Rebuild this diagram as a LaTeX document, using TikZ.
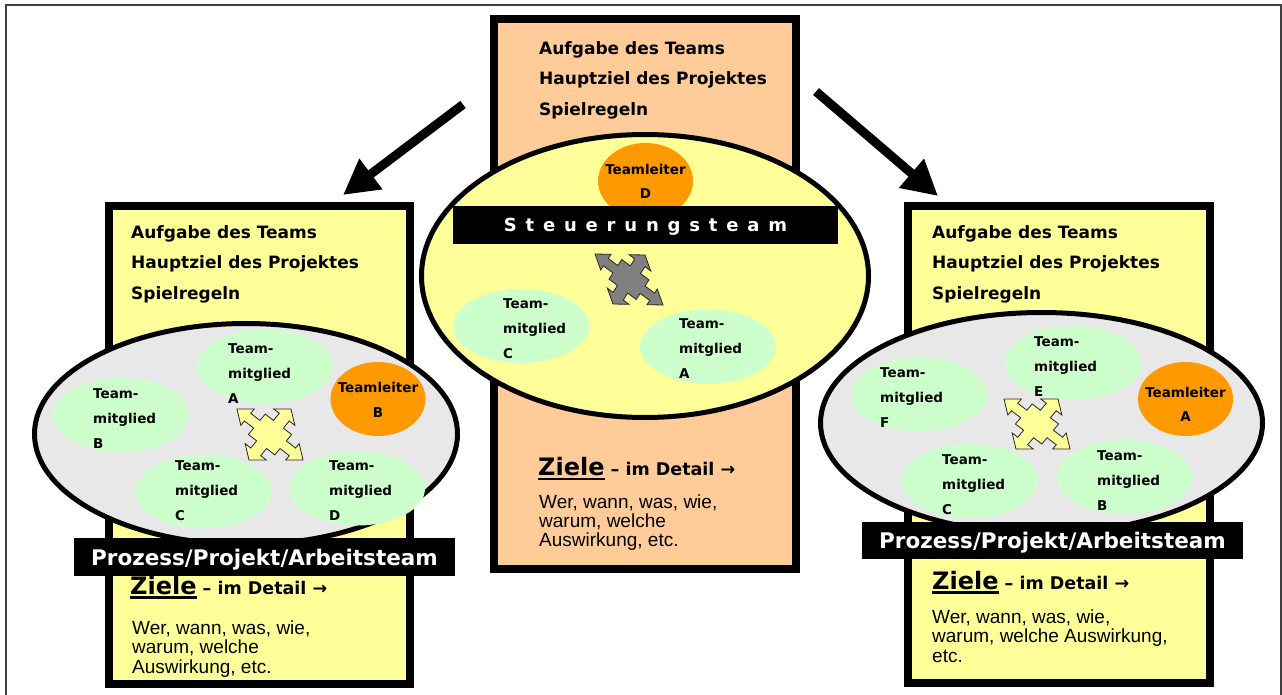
\documentclass[tikz,border=0pt]{standalone}
\usepackage{fontspec}
\setmainfont{DejaVu Sans}
\newfontfamily\arialfont{Liberation Sans}
\usetikzlibrary{shapes.geometric,arrows.meta}

\definecolor{boxorange}{HTML}{FFCC99}
\definecolor{boxyellow}{HTML}{FFFF99}
\definecolor{teamgray}{HTML}{E8E8E8}
\definecolor{membergreen}{HTML}{CCFFCC}
\definecolor{leaderorange}{HTML}{FF9900}
\definecolor{crossgray}{HTML}{808080}

\newcommand{\teamcross}{(0.4,-0.15) -- (0.68,-0.15) -- (0.68,-0.32) -- (1,0) -- (0.68,0.32) -- (0.68,0.15) -- (0.4,0.15) -- (0.4,0.4) -- (0.15,0.4) -- (0.15,0.68) -- (0.32,0.68) -- (0,1) -- (-0.32,0.68) -- (-0.15,0.68) -- (-0.15,0.4) -- (-0.4,0.4) -- (-0.4,0.15) -- (-0.68,0.15) -- (-0.68,0.32) -- (-1,0) -- (-0.68,-0.32) -- (-0.68,-0.15) -- (-0.4,-0.15) -- (-0.4,-0.4) -- (-0.15,-0.4) -- (-0.15,-0.68) -- (-0.32,-0.68) -- (0,-1) -- (0.32,-0.68) -- (0.15,-0.68) -- (0.15,-0.4) -- (0.4,-0.4) -- cycle}
\newcommand{\zielul}[1]{\setbox0=\hbox{#1}\rlap{\rule[-4.5pt]{\wd0}{2.5pt}}\box0}

\tikzset{
  teambox/.style={line width=8pt},
  teamoval/.style={ellipse, draw=black, line width=5pt, inner sep=0},
  member/.style={ellipse, fill=membergreen, minimum width=136pt, minimum height=74pt, inner sep=0},
  leader/.style={ellipse, fill=leaderorange, minimum width=95pt, minimum height=74pt, inner sep=0},
  leadertext/.style={inner sep=0, align=center, font=\bfseries\fontsize{13.5}{24.5}\selectfont},
  membertext/.style={anchor=north west, inner sep=0, align=left, font=\bfseries\fontsize{13.5}{25}\selectfont},
  teambar/.style={fill=black, text=white, inner sep=0, text depth=0pt, font=\bfseries\fontsize{21.5}{24}\selectfont},
  headtext/.style={anchor=north west, inner sep=0, align=left, font=\bfseries\fontsize{17}{30.75}\selectfont},
  zieltext/.style={anchor=base west, inner sep=0, font=\bfseries\fontsize{24}{28}\selectfont},
  detailtext/.style={anchor=north west, inner sep=0, align=left, font=\arialfont\fontsize{19}{19.4}\selectfont},
  crossline/.style={draw=black!85, line width=0.8pt},
  bigarrow/.style={line width=9pt, -{Triangle[length=35pt,width=36pt]}}
}

\begin{document}
\begin{tikzpicture}[x=1pt,y=-1pt]
  \useasboundingbox (0,0) rectangle (1282,695);
  \draw[line width=1.5pt, black!75] (6,5) rectangle (1281,712);

  \draw[teambox, fill=boxorange] (494,19) rectangle (796,569);
  \node[headtext] (cHead) at (539,41.1) {Aufgabe des Teams\\Hauptziel des Projektes\\Spielregeln};
  \node[teamoval, fill=boxyellow, minimum width=447pt, minimum height=283pt] (cOval) at (645,276) {};
  \node[leader, minimum height=76pt] (clD) at (645.5,181) {};
  \node[leadertext] (clDtext) at (645.5,181.4) {Teamleiter\\D};
  \node[teambar, minimum width=385pt, minimum height=38pt, font=\bfseries\fontsize{18}{20}\selectfont\addfontfeature{LetterSpace=49}] (cBar) at (645.5,225) {Steuerungsteam};
  \node[member] (cmC) at (521,326) {};
  \node[member] (cmA) at (708,346.5) {};
  \node[membertext] (cmCtext) at (503,298.2) {Team-\\mitglied\\C};
  \node[membertext] (cmAtext) at (679,318.2) {Team-\\mitglied\\A};
  \begin{scope}[shift={(629,279.5)}, x={(34pt,-25.5pt)}, y={(16pt,24.5pt)}]
    \draw[crossline, fill=crossgray] \teamcross;
  \end{scope}
  \node[zieltext] (cZiele) at (538,475.7) {\zielul{Ziele}{\fontsize{17.5}{20}\selectfont\ – im Detail →}};
  \node[detailtext] (cDetail) at (539,494.1) {Wer, wann, was, wie,\\warum, welche\\Auswirkung, etc.};

  \draw[teambox, fill=boxyellow] (108.5,206) rectangle (409.5,683.5);
  \node[headtext] (lHead) at (131,225.1) {Aufgabe des Teams\\Hauptziel des Projektes\\Spielregeln};
  \node[teamoval, fill=teamgray, minimum width=423pt, minimum height=221pt] (lOval) at (246,434) {};
  \node[member] (lmA) at (264.5,366.5) {};
  \node[member] (lmB) at (120.5,415) {};
  \node[member] (lmC) at (203.5,491.5) {};
  \node[member] (lmD) at (357,488.5) {};
  \node[leader] (llB) at (378,399) {};
  \node[leadertext] (llBtext) at (378,399.9) {Teamleiter\\B};
  \node[membertext] (lmAtext) at (228,343.2) {Team-\\mitglied\\A};
  \node[membertext] (lmBtext) at (93,388.2) {Team-\\mitglied\\B};
  \node[membertext] (lmCtext) at (175,460.2) {Team-\\mitglied\\C};
  \node[membertext] (lmDtext) at (329,460.2) {Team-\\mitglied\\D};
  \begin{scope}[shift={(270,434.5)}, x={(33pt,-25.5pt)}, y={(21pt,25.5pt)}]
    \draw[crossline, fill=boxyellow] \teamcross;
  \end{scope}
  \node[teambar, minimum width=381pt, minimum height=38pt] (lBar) at (264.5,557) {Prozess/Projekt/Arbeitsteam};
  \node[zieltext] (lZiele) at (130,594) {\zielul{Ziele}{\fontsize{17.5}{20}\selectfont\ – im Detail →}};
  \node[detailtext] (lDetail) at (132,620.4) {Wer, wann, was, wie,\\warum, welche\\Auswirkung, etc.};

  \draw[teambox, fill=boxyellow] (908,206.5) rectangle (1209.5,683);
  \node[headtext] (rHead) at (932,225.1) {Aufgabe des Teams\\Hauptziel des Projektes\\Spielregeln};
  \node[teamoval, fill=teamgray, minimum width=442pt, minimum height=221pt] (rOval) at (1041.5,423) {};
  \node[member] (rmE) at (1073,363) {};
  \node[member] (rmF) at (919,394.5) {};
  \node[member] (rmC) at (970,481) {};
  \node[member] (rmB) at (1124.5,477) {};
  \node[leader] (rlA) at (1185.5,399) {};
  \node[leadertext] (rlAtext) at (1185.5,404.3) {Teamleiter\\A};
  \node[membertext] (rmEtext) at (1034,336.2) {Team-\\mitglied\\E};
  \node[membertext] (rmFtext) at (880,367.2) {Team-\\mitglied\\F};
  \node[membertext] (rmCtext) at (942,454.2) {Team-\\mitglied\\C};
  \node[membertext] (rmBtext) at (1097,450.2) {Team-\\mitglied\\B};
  \begin{scope}[shift={(1037,424)}, x={(33pt,-25pt)}, y={(21pt,25pt)}]
    \draw[crossline, fill=boxyellow] \teamcross;
  \end{scope}
  \node[teambar, minimum width=381pt, minimum height=37pt] (rBar) at (1052.5,540.5) {Prozess/Projekt/Arbeitsteam};
  \node[zieltext] (rZiele) at (932,589) {\zielul{Ziele}{\fontsize{17.5}{20}\selectfont\ – im Detail →}};
  \node[detailtext] (rDetail) at (932,609.4) {Wer, wann, was, wie,\\warum, welche Auswirkung,\\etc.};

  \coordinate (lArrowStart) at (463,104.5);
  \coordinate (lArrowTip) at (343,195);
  \coordinate (rArrowStart) at (816,91.5);
  \coordinate (rArrowTip) at (938,196);
  \draw[bigarrow] (lArrowStart) -- (lArrowTip);
  \draw[bigarrow] (rArrowStart) -- (rArrowTip);
\end{tikzpicture}
\end{document}
